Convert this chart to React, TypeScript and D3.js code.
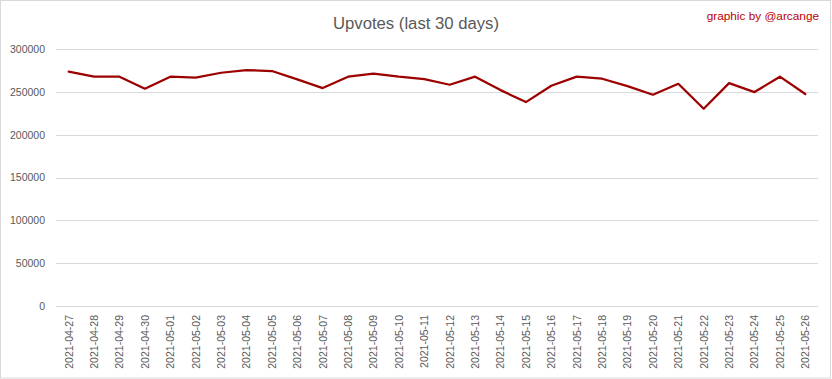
import React from "react";
import * as d3 from "d3";

const dates = [
  "2021-04-27", "2021-04-28", "2021-04-29", "2021-04-30", "2021-05-01",
  "2021-05-02", "2021-05-03", "2021-05-04", "2021-05-05", "2021-05-06",
  "2021-05-07", "2021-05-08", "2021-05-09", "2021-05-10", "2021-05-11",
  "2021-05-12", "2021-05-13", "2021-05-14", "2021-05-15", "2021-05-16",
  "2021-05-17", "2021-05-18", "2021-05-19", "2021-05-20", "2021-05-21",
  "2021-05-22", "2021-05-23", "2021-05-24", "2021-05-25", "2021-05-26",
];
const upvotes = [
  273800, 268000, 268000, 254000, 268000,
  266800, 272600, 275800, 274600, 264900,
  254700, 268000, 271500, 268000, 265200,
  258600, 268000, 252300, 238300, 257400,
  268000, 265600, 257000, 246900, 259700,
  230500, 260500, 250000, 268000, 247700,
];
const yTicks = [0, 50000, 100000, 150000, 200000, 250000, 300000];

const W = 832;
const H = 379;
const M = { left: 56, right: 818, top: 49.3, bottom: 306 };
const textColor = "#595959";
const font = "'Liberation Sans', Arial, sans-serif";

export default function App() {
  const x = d3.scaleBand<string>().domain(dates).range([M.left, M.right]);
  const y = d3.scaleLinear().domain([0, 300000]).range([M.bottom, M.top]);
  const line = d3
    .line<number>()
    .x((_, i) => (x(dates[i]) as number) + x.bandwidth() / 2)
    .y((d) => y(d));

  return (
    <svg
      width={W}
      height={H}
      style={{ position: "absolute", left: 0, top: 0, background: "#fff" }}
      fontFamily={font}
    >
      <rect x={0.5} y={0.5} width={830} height={377.5} fill="#fff" stroke="#d9d9d9" />
      <text x={416} y={29} textAnchor="middle" fontSize={16.7} fill={textColor}>
        Upvotes (last 30 days)
      </text>
      <text x={819} y={19.5} textAnchor="end" fontSize={11.8} fill="#c00000">
        graphic by @arcange
      </text>
      {yTicks.map((t) => (
        <g key={t}>
          <line
            x1={M.left}
            x2={M.right}
            y1={Math.round(y(t)) + 0.5}
            y2={Math.round(y(t)) + 0.5}
            stroke="#d9d9d9"
            strokeWidth={1}
          />
          <text
            x={45}
            y={y(t)}
            dy="0.35em"
            textAnchor="end"
            fontSize={10.5}
            fill={textColor}
          >
            {t}
          </text>
        </g>
      ))}
      {dates.map((d) => {
        const cx = (x(d) as number) + x.bandwidth() / 2;
        return (
          <text
            key={d}
            transform={`translate(${cx + 3.8},315) rotate(-90)`}
            textAnchor="end"
            fontSize={10.5}
            fill={textColor}
          >
            {d}
          </text>
        );
      })}
      <path
        d={line(upvotes) || ""}
        fill="none"
        stroke="#9c0000"
        strokeWidth={2.25}
        strokeLinejoin="round"
        strokeLinecap="round"
      />
    </svg>
  );
}
